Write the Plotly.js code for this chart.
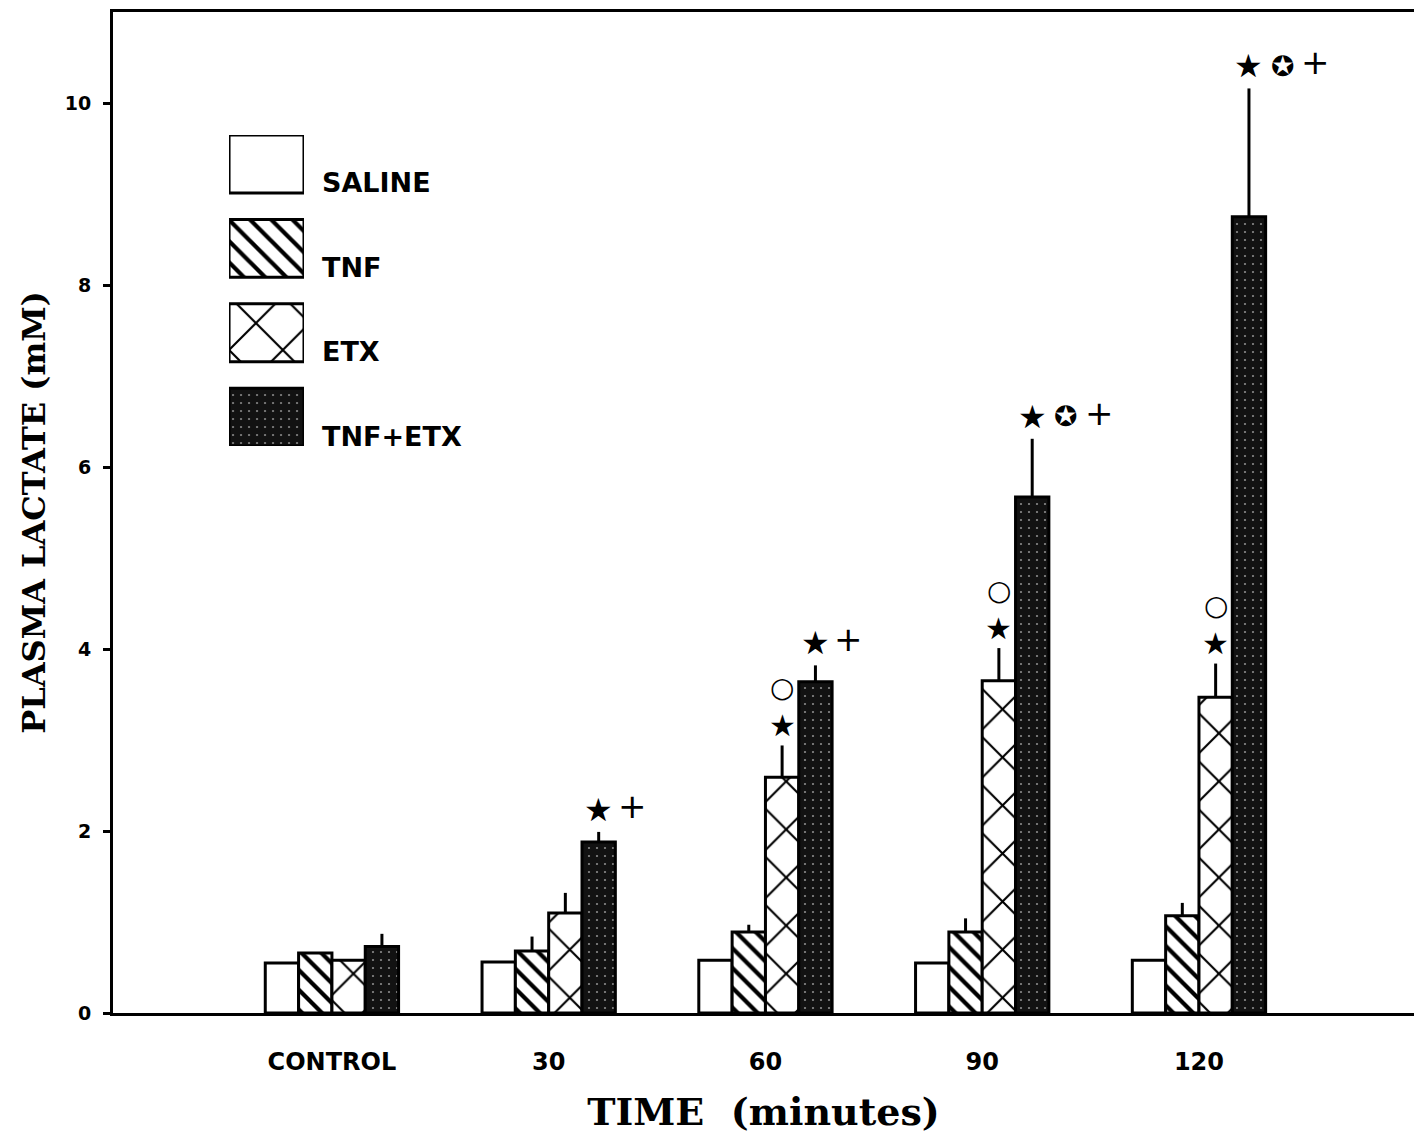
<!DOCTYPE html>
<html>
<head>
<meta charset="utf-8">
<script src="https://cdn.plot.ly/plotly-3.0.1.min.js"></script>
<style>html,body{margin:0;padding:0;background:#fff;}</style>
</head>
<body>
<div id="chart" style="width:1414px;height:1148px;"></div>
<script>
// ---- data ----
const categories = ["CONTROL", "30", "60", "90", "120"];
const seriesNames = ["SALINE", "TNF", "ETX", "TNF+ETX"];
const saline    = [0.55, 0.56, 0.58, 0.55, 0.58];
const salineErr = [0, 0, 0, 0, 0];
const tnf       = [0.66, 0.68, 0.89, 0.89, 1.07];
const tnfErr    = [0, 0.16, 0.08, 0.15, 0.14];
const etx       = [0.58, 1.10, 2.59, 3.65, 3.47];
const etxErr    = [0, 0.22, 0.35, 0.36, 0.37];
const tnfEtx    = [0.73, 1.88, 3.64, 5.67, 8.75];
const tnfEtxErr = [0.14, 0.11, 0.18, 0.64, 1.41];
const yTickVals = [0, 2, 4, 6, 8, 10];

// significance marks
const markCategory = ["30", "60", "60", "90", "90", "120", "120"];
const markSeries   = ["TNF+ETX", "ETX", "TNF+ETX", "ETX", "TNF+ETX", "ETX", "TNF+ETX"];
const markSymbols  = [["★", "+"], ["★", "○"], ["★", "+"], ["★", "○"], ["★", "✪", "+"], ["★", "○"], ["★", "✪", "+"]];

// ---- styles ----
const values = [saline, tnf, etx, tnfEtx];
const errs = [salineErr, tnfErr, etxErr, tnfEtxErr];
const patterns = [
  {shape: "", bgcolor: "#ffffff", fgcolor: "#000000"},
  {shape: "\\", bgcolor: "#ffffff", fgcolor: "#000000", size: 14, solidity: 0.3},
  {shape: "x", bgcolor: "#ffffff", fgcolor: "#000000", size: 34, solidity: 0.12},
  {shape: ".", bgcolor: "#121212", fgcolor: "#8a8a8a", size: 8, solidity: 0.06}
];
const legendPatterns = [
  patterns[0],
  {shape: "\\", bgcolor: "#ffffff", fgcolor: "#000000", size: 15, solidity: 0.28},
  {shape: "x", bgcolor: "#ffffff", fgcolor: "#000000", size: 38, solidity: 0.11},
  patterns[3]
];
const barColors = ["#ffffff", "#ffffff", "#ffffff", "#121212"];
const bargap = 0.385;
const barW = (1 - bargap) / 4;

const traces = [];
seriesNames.forEach((name, s) => {
  traces.push({
    type: "bar", name: name, x: categories, y: values[s],
    marker: {color: barColors[s], line: {color: "#000", width: 3}, pattern: patterns[s]},
    error_y: {type: "data", symmetric: false, array: errs[s], arrayminus: errs[s].map(() => 0),
              color: "#000", thickness: 3, width: 0},
    showlegend: false, hoverinfo: "skip"
  });
});

// legend boxes drawn as bars on a small hidden subplot
const legendBoxH = 0.686;
seriesNames.forEach((name, s) => {
  traces.push({
    type: "bar", x: [0], y: [legendBoxH], base: [3 - s], width: [1], offset: [-0.5],
    xaxis: "x2", yaxis: "y2",
    marker: {color: barColors[s], line: {color: "#000", width: 3}, pattern: legendPatterns[s]},
    showlegend: false, hoverinfo: "skip"
  });
});

const annotations = [];
// legend labels
seriesNames.forEach((name, s) => {
  annotations.push({
    xref: "x2", yref: "y2", x: 0.5, y: 3 - s, xanchor: "left", yanchor: "middle",
    xshift: 16, yshift: 10, showarrow: false, text: name,
    font: {family: "DejaVu Sans", size: 27, weight: "bold", color: "#000"}
  });
});
// significance marks
markCategory.forEach((cat, i) => {
  const c = categories.indexOf(cat);
  const s = seriesNames.indexOf(markSeries[i]);
  const xc = c + (s - 1.5) * barW;
  const yTip = values[s][c] + errs[s][c];
  const stacked = markSeries[i] === "ETX";
  markSymbols[i].forEach((sym, k) => {
    const isPlus = sym === "+";
    let xs, ys, fs;
    if (stacked) {
      xs = 0;
      ys = k === 0 ? 20 : 58;
      fs = k === 0 ? 30 : 28;
    } else {
      xs = k * 33.5;
      ys = isPlus ? 26 : 22;
      fs = sym === "★" ? 32 : (isPlus ? 34 : 28);
    }
    annotations.push({
      xref: "x", yref: "y", x: xc, y: yTip, xanchor: "center", yanchor: "middle",
      xshift: xs, yshift: ys, showarrow: false, text: sym,
      font: {family: "DejaVu Sans", size: fs, color: "#000"}
    });
  });
});

const layout = {
  width: 1414, height: 1148,
  margin: {l: 113, r: 0, t: 12, b: 135},
  paper_bgcolor: "#ffffff", plot_bgcolor: "#ffffff",
  barmode: "group", bargap: bargap, bargroupgap: 0,
  showlegend: false,
  xaxis: {
    type: "category", range: [-1.01, 4.992], showline: true, linewidth: 3, linecolor: "#000",
    mirror: true, ticks: "", showgrid: false, zeroline: false, fixedrange: true,
    tickfont: {family: "DejaVu Sans", size: 24, weight: "bold", color: "#000"},
    ticklabelstandoff: 25,
    title: {text: "TIME\u00a0\u00a0(minutes)", standoff: 24,
            font: {family: "DejaVu Serif", size: 38, weight: "bold", color: "#000"}}
  },
  yaxis: {
    range: [0, 11], tickvals: yTickVals, ticks: "outside", ticklen: 7, tickwidth: 3,
    tickcolor: "#000", showline: true, linewidth: 3, linecolor: "#000",
    showgrid: false, zeroline: false, fixedrange: true,
    tickfont: {family: "DejaVu Sans", size: 19, weight: "bold", color: "#000"},
    ticklabelstandoff: 8,
    title: {text: "PLASMA LACTATE (mM)", standoff: 10,
            font: {family: "DejaVu Serif", size: 32, weight: "bold", color: "#000"}}
  },
  xaxis2: {domain: [0.0892, 0.1468], range: [-0.5, 0.5], visible: false, anchor: "y2", fixedrange: true},
  yaxis2: {domain: [0.5664, 0.8771], range: [0, 3 + legendBoxH], visible: false, anchor: "x2", fixedrange: true},
  annotations: annotations
};

Plotly.newPlot("chart", traces, layout, {staticPlot: true, displayModeBar: false});
</script>
</body>
</html>
